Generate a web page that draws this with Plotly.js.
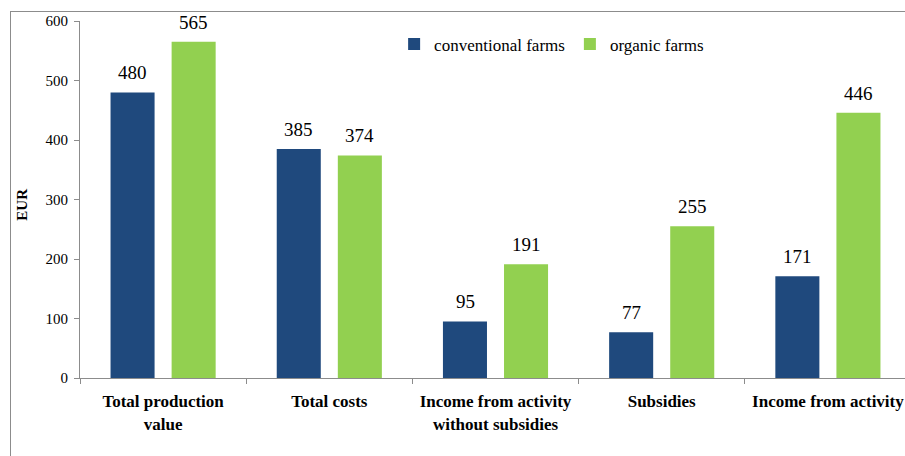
<!DOCTYPE html>
<html><head><meta charset="utf-8">
<script src="https://cdn.plot.ly/plotly-3.0.1.min.js"></script>
<style>html,body{margin:0;padding:0;overflow:hidden;background:#fff;width:905px;height:456px}
#frame{position:absolute;left:10px;top:11px;width:900px;height:450px;border-left:1px solid #8c8c8c;border-top:1px solid #8c8c8c;pointer-events:none}</style>
</head><body>
<div id="chart" style="width:911px;height:456px"></div>
<div id="frame"></div>
<script>
const categories = ["Total production<br>value","Total costs","Income from activity<br>without subsidies","Subsidies","Income from activity"];
const conventional = [480, 385, 95, 77, 171];
const organic = [565, 374, 191, 255, 446];
const seriesNames = ["conventional farms","organic farms"];
const colors = ["#1F497D","#92D050"];
const serif = "Times New Roman, Liberation Serif, DejaVu Serif, serif";

const traces = [conventional, organic].map((vals,i)=>({
  type:'bar', x:categories, y:vals, name:seriesNames[i],
  marker:{color:colors[i]}, hoverinfo:'none'
}));
const annotations = [];
[conventional, organic].forEach((vals,i)=>{
  vals.forEach((v,j)=>annotations.push({
    x:categories[j], y:v, xref:'x', yref:'y', text:String(v), showarrow:false,
    xshift: i===0 ? -30.5 : 30.5, yanchor:'bottom', yshift:7,
    font:{family:serif,size:19,color:'#000'}
  }));
});
annotations.push({xref:'paper',yref:'paper',x:-0.07,y:0.485,text:'<b>EUR</b>',textangle:-90,showarrow:false,
  xanchor:'center',yanchor:'middle',font:{family:serif,size:15,color:'#000'}});
const layout = {
  width:911, height:456,
  margin:{l:80,r:0,t:21,b:78},
  paper_bgcolor:'#fff', plot_bgcolor:'#fff',
  barmode:'group', bargap:0.265, bargroupgap:0.279,
  showlegend:true,
  legend:{orientation:'h', x:0.378, y:0.985, xanchor:'left', yanchor:'top',
    font:{family:serif,size:17,color:'#000'}, bgcolor:'rgba(0,0,0,0)', itemwidth:30, tracegroupgap:0},
  xaxis:{type:'category', range:[-0.5,4.5], showline:true, linecolor:'#8c8c8c', linewidth:1,
    ticks:'outside', tickson:'boundaries', ticklen:5, tickcolor:'#8c8c8c',
    tickfont:{family:serif,size:17,color:'#000',weight:'bold'}, showgrid:false, fixedrange:true, ticklabelstandoff:8},
  yaxis:{range:[0,600], dtick:100, showline:true, linecolor:'#8c8c8c', linewidth:1,
    ticks:'outside', ticklen:5, tickcolor:'#8c8c8c', showgrid:false, zeroline:false,
    tickfont:{family:serif,size:15,color:'#000'}, ticklabelstandoff:3},
  annotations:annotations,
  font:{family:serif}
};
Plotly.newPlot('chart', traces, layout, {displayModeBar:false, staticPlot:true});
</script>
</body></html>
